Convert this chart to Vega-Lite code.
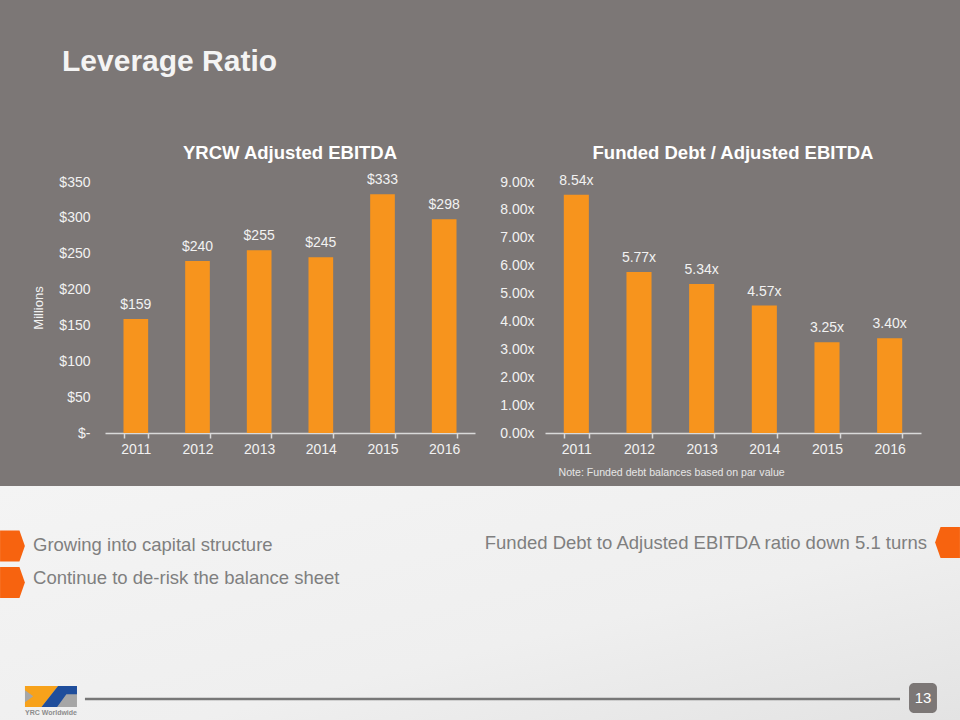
{
  "$schema": "https://vega.github.io/schema/vega-lite/v6.json",
  "background": "#7c7776",
  "padding": {"left": 0, "right": 0, "top": 46, "bottom": 0},
  "title": {"text": "Leverage Ratio", "anchor": "start", "dx": 62, "fontSize": 30, "font": "Liberation Sans", "fontWeight": "bold", "color": "#f4f4f4", "baseline": "alphabetic", "offset": 43},
  "config": {
    "font": "Liberation Sans",
    "view": {"stroke": null},
    "axis": {"labelFont": "Liberation Sans", "titleFont": "Liberation Sans"}
  },
  "spacing": 8,
  "vconcat": [
    {
      "spacing": 24,
      "hconcat": [
        {
          "width": 8,
          "height": 251,
          "view": {"fill": "#7c7776", "stroke": null},
          "data": {"values": []},
          "mark": "text"
        },
        {
          "width": 370,
          "height": 251,
          "title": {"text": "YRCW Adjusted EBITDA", "frame": "group", "offset": -4, "baseline": "alphabetic", "fontSize": 18.5, "fontWeight": "bold", "color": "#ffffff", "font": "Liberation Sans"},
          "data": {"values": [
            {"year": "2011", "ebitda": 159, "label": "$159"},
            {"year": "2012", "ebitda": 240, "label": "$240"},
            {"year": "2013", "ebitda": 255, "label": "$255"},
            {"year": "2014", "ebitda": 245, "label": "$245"},
            {"year": "2015", "ebitda": 333, "label": "$333"},
            {"year": "2016", "ebitda": 298, "label": "$298"}
          ]},
          "encoding": {
            "x": {"field": "year", "type": "ordinal", "scale": {"paddingInner": 0.6, "paddingOuter": 0.3},
              "axis": {"title": null, "labelAngle": 0, "tickBand": "extent", "domainColor": "#d9d9d9", "tickColor": "#d9d9d9", "domainWidth": 1.5, "tickWidth": 1.5, "tickSize": 5, "labelPadding": 4, "labelFontSize": 14, "labelColor": "#f2f2f2"}},
            "y": {"field": "ebitda", "type": "quantitative", "scale": {"domain": [0, 350], "nice": false},
              "axis": {"values": [0, 50, 100, 150, 200, 250, 300, 350], "labelExpr": "datum.value == 0 ? '$-\u00a0\u00a0' : '$' + datum.value", "domain": false, "ticks": false, "grid": false, "labelPadding": 15, "labelFontSize": 14, "labelColor": "#f2f2f2", "title": "Millions", "titleFontSize": 13, "titleFontWeight": "normal", "titleColor": "#f2f2f2", "titlePadding": 13}}
          },
          "layer": [
            {"mark": {"type": "bar", "color": "#f7941d"}},
            {"mark": {"type": "text", "dy": -7, "baseline": "bottom", "fontSize": 14, "color": "#f2f2f2"}, "encoding": {"text": {"field": "label"}}}
          ]
        },
        {
          "width": 376,
          "height": 251,
          "title": {"text": "Funded Debt / Adjusted EBITDA", "frame": "group", "offset": -4, "baseline": "alphabetic", "fontSize": 18.5, "fontWeight": "bold", "color": "#ffffff", "font": "Liberation Sans"},
          "data": {"values": [
            {"year": "2011", "ratio": 8.54, "label": "8.54x"},
            {"year": "2012", "ratio": 5.77, "label": "5.77x"},
            {"year": "2013", "ratio": 5.34, "label": "5.34x"},
            {"year": "2014", "ratio": 4.57, "label": "4.57x"},
            {"year": "2015", "ratio": 3.25, "label": "3.25x"},
            {"year": "2016", "ratio": 3.40, "label": "3.40x"}
          ]},
          "encoding": {
            "x": {"field": "year", "type": "ordinal", "scale": {"paddingInner": 0.6, "paddingOuter": 0.3},
              "axis": {"title": "Note: Funded debt balances based on par value", "titleFontSize": 10.6, "titleFontWeight": "normal", "titleColor": "#e6e6e6", "titleAnchor": "start", "titleAlign": "left", "titleX": 13, "titlePadding": 11, "labelAngle": 0, "tickBand": "extent", "domainColor": "#d9d9d9", "tickColor": "#d9d9d9", "domainWidth": 1.5, "tickWidth": 1.5, "tickSize": 5, "labelPadding": 4, "labelFontSize": 14, "labelColor": "#f2f2f2"}},
            "y": {"field": "ratio", "type": "quantitative", "scale": {"domain": [0, 9], "nice": false},
              "axis": {"values": [0, 1, 2, 3, 4, 5, 6, 7, 8, 9], "labelExpr": "format(datum.value, '.2f') + 'x'", "domain": false, "ticks": false, "grid": false, "labelPadding": 11, "labelFontSize": 14, "labelColor": "#f2f2f2", "title": null}}
          },
          "layer": [
            {"mark": {"type": "bar", "color": "#f7941d"}},
            {"mark": {"type": "text", "dy": -7, "baseline": "bottom", "fontSize": 14, "color": "#f2f2f2"}, "encoding": {"text": {"field": "label"}}}
          ]
        }
      ]
    },
    {
      "width": 960,
      "height": 234,
      "view": {"fill": {"gradient": "linear", "x1": 0, "y1": 0, "x2": 1, "y2": 1, "stops": [{"offset": 0, "color": "#f4f4f4"}, {"offset": 0.6, "color": "#efefef"}, {"offset": 1, "color": "#e3e3e3"}]}, "stroke": null},
      "encoding": {
        "x": {"type": "quantitative", "scale": {"domain": [0, 100], "nice": false, "zero": false}, "axis": null},
        "y": {"type": "quantitative", "scale": {"domain": [0, 100], "nice": false, "zero": false, "reverse": true}, "axis": null}
      },
      "layer": [
        {
          "data": {"values": [{"note": "Growing into capital structure"}]},
          "mark": {"type": "text", "align": "left", "baseline": "middle", "fontSize": 18.5, "color": "#7f7f7f"},
          "encoding": {"x": {"datum": 3.44}, "y": {"datum": 25.2}, "text": {"field": "note"}}
        },
        {
          "data": {"values": [{"note": "Continue to de-risk the balance sheet"}]},
          "mark": {"type": "text", "align": "left", "baseline": "middle", "fontSize": 18.5, "color": "#7f7f7f"},
          "encoding": {"x": {"datum": 3.44}, "y": {"datum": 39.5}, "text": {"field": "note"}}
        },
        {
          "data": {"values": [{"note": "Funded Debt to Adjusted EBITDA ratio down 5.1 turns"}]},
          "mark": {"type": "text", "align": "right", "baseline": "middle", "fontSize": 18.5, "color": "#7f7f7f"},
          "encoding": {"x": {"datum": 96.56}, "y": {"datum": 24.4}, "text": {"field": "note"}}
        },
        {
          "data": {"values": [{"marker": "left"}]},
          "mark": {"type": "point", "filled": true, "opacity": 1, "color": "#f7630f", "size": 961, "shape": "M-0.8,-1L0.45,-1L0.8,0L0.45,1L-0.8,1Z"},
          "encoding": {"x": {"datum": 1.3}, "y": {"datum": 25.6}}
        },
        {
          "data": {"values": [{"marker": "left"}]},
          "mark": {"type": "point", "filled": true, "opacity": 1, "color": "#f7630f", "size": 961, "shape": "M-0.8,-1L0.45,-1L0.8,0L0.45,1L-0.8,1Z"},
          "encoding": {"x": {"datum": 1.3}, "y": {"datum": 41.2}}
        },
        {
          "data": {"values": [{"marker": "right"}]},
          "mark": {"type": "point", "filled": true, "opacity": 1, "color": "#f7630f", "size": 961, "shape": "M0.8,-1L-0.45,-1L-0.8,0L-0.45,1L0.8,1Z"},
          "encoding": {"x": {"datum": 98.7}, "y": {"datum": 24.1}}
        },
        {
          "data": {"values": [{"item": "footer"}]},
          "mark": {"type": "rule", "color": "#777777", "strokeWidth": 2.5},
          "encoding": {"x": {"datum": 8.85}, "x2": {"datum": 93.75}, "y": {"datum": 91.03}}
        },
        {
          "data": {"values": [{"item": "page"}]},
          "mark": {"type": "rect", "color": "#7c7776", "cornerRadius": 5},
          "encoding": {"x": {"datum": 94.69}, "x2": {"datum": 97.6}, "y": {"datum": 84.19}, "y2": {"datum": 97.01}}
        },
        {
          "data": {"values": [{"page": "13"}]},
          "mark": {"type": "text", "align": "center", "baseline": "middle", "fontSize": 15, "color": "#ffffff"},
          "encoding": {"x": {"datum": 96.15}, "y": {"datum": 90.6}, "text": {"field": "page"}}
        },
        {
          "data": {"values": [{"logo": "grey"}]},
          "mark": {"type": "point", "filled": true, "opacity": 1, "color": "#a6a6a6", "size": 2704, "shape": "M-1,-0.401L1,-0.401L1,0.401L-1,0.401Z"},
          "encoding": {"x": {"datum": 5.31}, "y": {"datum": 89.96}}
        },
        {
          "data": {"values": [{"logo": "orange"}]},
          "mark": {"type": "point", "filled": true, "opacity": 1, "color": "#f7a21b", "size": 2704, "shape": "M-1,-0.401L0.274,-0.401L-0.363,0.401L-1,0.401L-1,0.223L-0.682,-0.006L-1,-0.236Z"},
          "encoding": {"x": {"datum": 5.31}, "y": {"datum": 89.96}}
        },
        {
          "data": {"values": [{"logo": "blue"}]},
          "mark": {"type": "point", "filled": true, "opacity": 1, "color": "#1f4e9c", "size": 2704, "shape": "M0.274,-0.401L1,-0.401L1,-0.083L0.592,-0.083L0.236,0.401L-0.363,0.401Z"},
          "encoding": {"x": {"datum": 5.31}, "y": {"datum": 89.96}}
        },
        {
          "data": {"values": [{"logo": "YRC Worldwide"}]},
          "mark": {"type": "text", "align": "center", "baseline": "middle", "fontSize": 7, "fontWeight": "bold", "color": "#8c8c8c"},
          "encoding": {"x": {"datum": 5.31}, "y": {"datum": 97.0}, "text": {"field": "logo"}}
        }
      ]
    }
  ]
}
